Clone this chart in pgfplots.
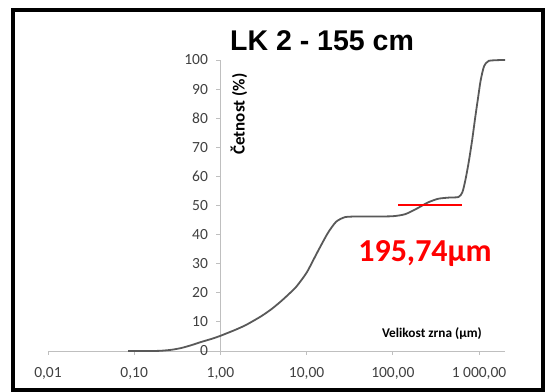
\documentclass[border=0pt]{standalone}
\usepackage{pgfplots}
\pgfplotsset{compat=1.18}
\usepackage{fontspec}
\setmainfont{Carlito}
\newfontfamily\arialfont{Liberation Sans}
\definecolor{axgray}{HTML}{BFBFBF}
\definecolor{curvegray}{HTML}{595959}
\definecolor{lblgray}{HTML}{404040}
\begin{document}
\begin{tikzpicture}
\begin{axis}[
  scale only axis, width=457bp, height=291bp,
  xmode=log, xmin=0.01, xmax=2000, ymin=0, ymax=100,
  axis x line=bottom, axis y line=middle,
  x axis line style={-, draw=axgray, line width=0.8bp},
  y axis line style={-, draw=axgray, line width=0.8bp},
  hide obscured x ticks=false, hide obscured y ticks=false,
  tick align=outside, major tick length=4bp,
  tick style={draw=axgray, line width=0.8bp},
  minor tick num=0, xminorticks=false, yminorticks=false,
  xtick={0.01,0.1,1,10,100,1000},
  xticklabels={{0,01},{0,10},{1,00},{10,00},{100,00},{1 000,00}},
  ytick={0,10,...,100},
  /pgf/number format/assume math mode=true,
  ticklabel style={font=\fontsize{15.5bp}{18bp}\selectfont, text=lblgray},
  xticklabel style={yshift=-9bp},
  yticklabel style={xshift=-5bp},
  clip=false,
]
\addplot[curvegray, line width=1.8bp, smooth, tension=0.4] coordinates {
 (0.085,0) (0.15,0) (0.2,0.05) (0.27,0.4) (0.35,1.0) (0.45,1.9) (0.6,3.1) (0.8,4.2) (1,5.2)
 (1.5,7.3) (2,9.0) (3,12.0) (4,14.6) (5.1,17.2) (6.3,19.7) (7.6,22.1) (10,26.9) (13.2,33.7)
 (17.6,40.5) (22,44.4) (28,46.0) (40,46.2) (60,46.2) (100,46.3) (139,47.0)
 (192,49.0) (254,51.0) (336,52.3) (447,52.7) (577,52.9) (640,54.5) (695,58.8)
 (760,65) (832,72.5) (900,80) (966,86.3) (1030,92) (1086,95.4) (1150,98)
 (1300,99.7) (2000,100)
};
\addplot[red, line width=2bp] coordinates {(116,50.3) (641,50.3)};
% frame and bounding box
\path (rel axis cs:-0.105,-0.1409) rectangle (rel axis cs:1.0875,1.206);
\draw[black, line width=4bp] (rel axis cs:-0.0766,-0.134) rectangle (rel axis cs:1.083,1.172);
\node[anchor=base, font=\arialfont\bfseries\fontsize{28.5bp}{32bp}\selectfont, inner sep=0pt]
  at (rel axis cs:0.5996,1.034) {LK 2 - 155 cm};
\node[anchor=base, text=red, font=\bfseries\fontsize{32bp}{36bp}\selectfont, inner sep=0pt]
  at (rel axis cs:0.825,0.306) {195,74µm};
\node[rotate=90, font=\bfseries\fontsize{17bp}{19bp}\selectfont, inner sep=0pt]
  at (rel axis cs:0.418,0.814) {Četnost (\%)};
\node[font=\bfseries\fontsize{13.3bp}{16bp}\selectfont, inner sep=0pt]
  at (rel axis cs:0.840,0.058) {Velikost zrna (µm)};
\end{axis}
\end{tikzpicture}
\end{document}
